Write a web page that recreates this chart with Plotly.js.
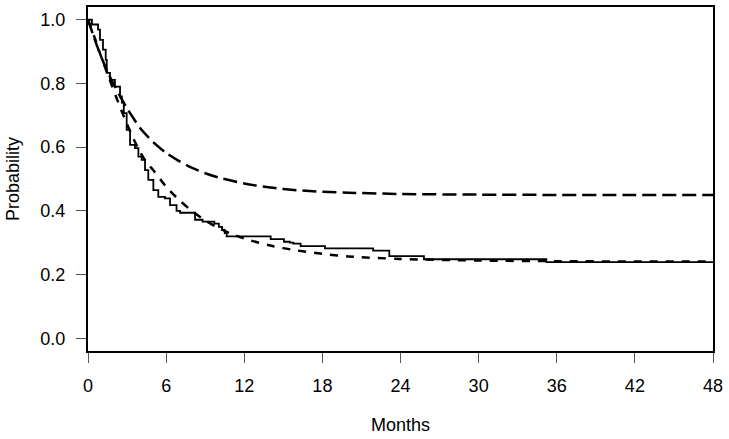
<!DOCTYPE html>
<html>
<head>
<meta charset="utf-8">
<script src="https://cdn.plot.ly/plotly-3.0.1.min.js"></script>
<style>html,body{margin:0;padding:0;background:#fff;}#chart{width:729px;height:439px;}</style>
</head>
<body>
<div id="chart"></div>
<script>
// Kaplan-Meier estimate (step function)
const kmMonths = [0, 0.3, 0.77, 0.92, 1.15, 1.36, 1.44, 1.69, 2.07, 2.46, 2.6, 2.75, 2.97, 3.23, 3.61, 3.87, 4.12, 4.38, 4.63, 5.02, 5.40, 5.91, 6.3, 6.8, 7.07, 8.22, 8.8, 9.7, 10.05, 10.3, 10.5, 10.65, 14.03, 15.05, 15.5, 15.77, 16.33, 18.2, 21.9, 23.14, 25.8, 35.2, 48];
const kmProb   = [1.0, 0.985, 0.969, 0.937, 0.906, 0.874, 0.833, 0.811, 0.790, 0.759, 0.740, 0.707, 0.654, 0.607, 0.597, 0.570, 0.560, 0.528, 0.497, 0.465, 0.444, 0.439, 0.418, 0.400, 0.394, 0.372, 0.366, 0.360, 0.350, 0.340, 0.330, 0.320, 0.311, 0.303, 0.300, 0.297, 0.289, 0.282, 0.275, 0.258, 0.248, 0.239, 0.239];

// Fitted curve (long dash, upper plateau)
const longMonths = [0, 0.5, 1, 1.5, 2, 2.5, 3, 3.5, 4, 5, 6, 7, 8, 9, 10, 12, 14, 16, 18, 20, 24, 30, 36, 42, 48];
const longProb   = [1.0, 0.94, 0.885, 0.837, 0.795, 0.757, 0.722, 0.690, 0.660, 0.616, 0.582, 0.556, 0.535, 0.518, 0.505, 0.486, 0.473, 0.465, 0.460, 0.457, 0.453, 0.451, 0.450, 0.450, 0.450];

// Fitted curve (short dash, lower plateau)
const shortMonths = [0, 0.5, 1, 1.5, 2, 2.5, 3, 3.5, 4, 4.5, 5, 6, 7, 8, 9, 10, 11, 12, 14, 16, 18, 20, 24, 30, 36, 42, 48];
const shortProb   = [1.0, 0.945, 0.885, 0.830, 0.775, 0.722, 0.672, 0.626, 0.585, 0.552, 0.528, 0.476, 0.434, 0.399, 0.370, 0.347, 0.328, 0.313, 0.291, 0.276, 0.265, 0.257, 0.249, 0.244, 0.242, 0.241, 0.241];

const xTicks = [0, 6, 12, 18, 24, 30, 36, 42, 48];
const yTicks = [0, 0.2, 0.4, 0.6, 0.8, 1.0];
const yTickText = ['0.0', '0.2', '0.4', '0.6', '0.8', '1.0'];

const font = {family: 'Liberation Sans, Arial, sans-serif', size: 18, color: '#000'};

const traces = [
  {x: longMonths, y: longProb, mode: 'lines', line: {color: '#000', width: 2.5, dash: '14px,6px', shape: 'spline', smoothing: 0.8}, hoverinfo: 'skip'},
  {x: shortMonths, y: shortProb, mode: 'lines', line: {color: '#000', width: 2.5, dash: '8px,8px', shape: 'spline', smoothing: 0.8}, hoverinfo: 'skip'},
  {x: kmMonths, y: kmProb, mode: 'lines', line: {color: '#000', width: 1.8, shape: 'hv'}, hoverinfo: 'skip'}
];

const layout = {
  width: 729, height: 439,
  margin: {l: 88, r: 16, t: 7, b: 88},
  paper_bgcolor: '#fff', plot_bgcolor: '#fff',
  showlegend: false,
  font: font,
  xaxis: {
    range: [0, 48], tickvals: xTicks, ticktext: xTicks.map(String),
    showline: true, mirror: true, linecolor: '#000', linewidth: 2,
    ticks: 'outside', ticklen: 10, tickwidth: 1, tickcolor: '#555',
    ticklabelstandoff: 7,
    showgrid: false, zeroline: false,
    title: {text: 'Months', font: font, standoff: 24}
  },
  yaxis: {
    range: [-0.04, 1.04], tickvals: yTicks, ticktext: yTickText,
    showline: true, mirror: true, linecolor: '#000', linewidth: 2,
    ticks: 'outside', ticklen: 10, tickwidth: 1, tickcolor: '#555',
    ticklabelstandoff: 7,
    showgrid: false, zeroline: false,
    title: {text: 'Probability', font: font, standoff: 16}
  }
};

Plotly.newPlot('chart', traces, layout, {staticPlot: true, displayModeBar: false});
</script>
</body>
</html>
